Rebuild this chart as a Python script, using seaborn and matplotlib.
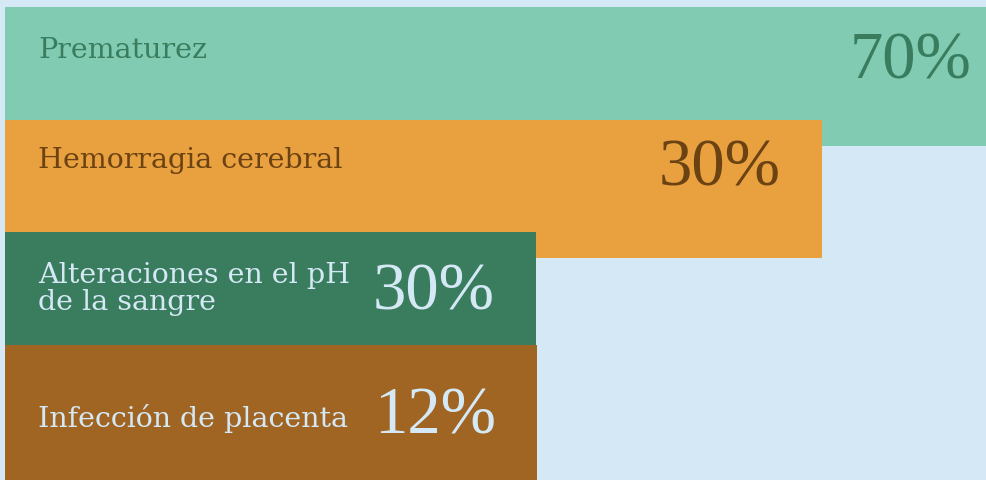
import matplotlib
matplotlib.use("Agg")
import matplotlib.pyplot as plt
import seaborn as sns

causes = ["Prematurez", "Hemorragia cerebral",
          "Alteraciones en el pH\nde la sangre", "Infección de placenta"]
percent = [70, 30, 30, 12]
# drawn length of each band, in % of the chart width (the first runs past the frame)
bar_length = [102.6, 83.2, 54.1, 54.2]

bar_colors = ["#80cbb2", "#e9a03e", "#3a7d5e", "#a06522"]
text_colors = ["#3a7d5e", "#6b4212", "#d4e8f5", "#d4e8f5"]
bg = "#d4e8f5"

# small vertical nudges (pixels) for the texts of each band
label_nudge = [-13, -16, 0, 6]
value_nudge = [-2, -7, 4, 4]


def main():
    fig = plt.figure(figsize=(9.87, 4.8), dpi=100, facecolor=bg)
    ax = fig.add_axes([0, 0, 1, 1])

    sns.barplot(x=bar_length, y=causes, hue=causes, palette=bar_colors,
                orient="h", width=1.23, saturation=1, linewidth=0,
                legend=False, ax=ax)

    px = 9.82   # pixels per x unit
    py = 112.6  # pixels per y unit
    ax.set_xlim(-5 / px, 100)
    ymin, ymax = -0.679, 3.583
    ax.set_ylim(ymax, ymin)
    ax.set_axis_off()

    bars = ax.patches
    for i, bar in enumerate(bars):
        top = bar.get_y()
        if i + 1 < len(bars):
            bottom = bars[i + 1].get_y()
        else:
            bottom = min(top + bar.get_height(), ymax)
        yc = (top + bottom) / 2

        ax.text(33 / px, yc + label_nudge[i] / py, causes[i],
                color=text_colors[i], ha="left", va="center", fontsize=20.5,
                family="DejaVu Serif", linespacing=1.0)
        ax.text(bar.get_width() - 4.2, yc + value_nudge[i] / py,
                "{0}%".format(percent[i]), color=text_colors[i], ha="right",
                va="center", fontsize=48, family="Liberation Serif")

    fig.savefig("out.png", dpi=100, facecolor=bg)


if __name__ == '__main__':
    main()
